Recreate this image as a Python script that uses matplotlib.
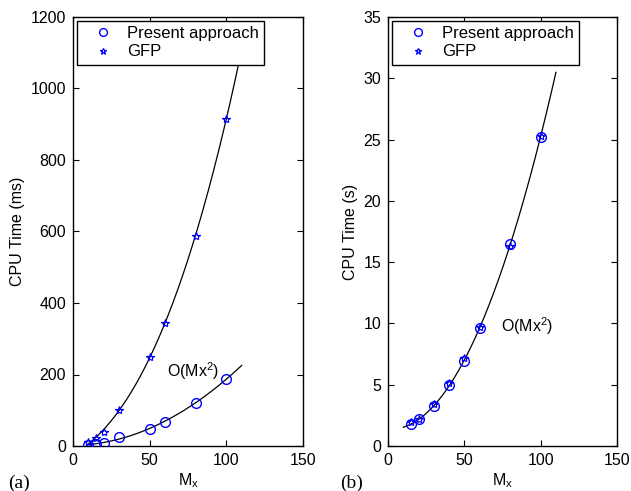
import numpy as np
import matplotlib
matplotlib.use("Agg")
import matplotlib.pyplot as plt

plt.rcParams['font.family'] = ['Liberation Sans', 'DejaVu Sans']
plt.rcParams['mathtext.fontset'] = 'custom'
plt.rcParams['mathtext.rm'] = 'Liberation Sans'
plt.rcParams['mathtext.it'] = 'Liberation Sans'

# (a) CPU time in ms
mx_a = [10, 15, 20, 30, 50, 60, 80, 100]
present_a = [3, 5, 9, 25, 48, 68, 120, 188]
gfp_a = [10, 23, 40, 101, 250, 344, 588, 916]

# (b) CPU time in s
mx_b = [15, 20, 30, 40, 50, 60, 80, 100]
present_b = [1.77, 2.17, 3.3, 4.95, 6.96, 9.6, 16.45, 25.25]
gfp_b = [1.95, 2.22, 3.45, 5.1, 7.2, 9.7, 16.3, 25.3]

blue = (0, 0, 1)
fs = 11

fig = plt.figure(figsize=(6.31, 4.91), dpi=100)
W, H = 631, 491
axA = fig.add_axes([73 / W, 1 - 446 / H, 230 / W, 429 / H])
axB = fig.add_axes([388 / W, 1 - 446 / H, 229 / W, 429 / H])


def style(ax, ylim, yticks, ylabel):
    ax.set_xlim(0, 150)
    ax.set_ylim(*ylim)
    ax.set_xticks([0, 50, 100, 150])
    ax.set_yticks(yticks)
    ax.tick_params(direction='in', top=True, right=True, labelsize=fs + 0.5, length=4, width=0.8, pad=5)
    for s in ax.spines.values():
        s.set_linewidth(1.0)
    ax.set_xlabel(r'M$_\mathregular{x}$', fontsize=fs + 0.5, labelpad=2.5)
    ax.set_ylabel(ylabel, fontsize=fs + 0.5, labelpad=4)


def fit_line(ax, x, y, deg, x0, x1):
    c = np.polyfit(x, y, deg)
    xx = np.linspace(x0, x1, 200)
    ax.plot(xx, np.polyval(c, xx), color='black', lw=0.9, zorder=1)


# Panel (a)
fit_line(axA, mx_a, gfp_a, 3, 9, 110)
fit_line(axA, mx_a, present_a, 2, 9, 110)
axA.plot(mx_a, present_a, 'o', ms=7, mfc='none', mec=blue, mew=1.0, label='Present approach', zorder=3)
axA.plot(mx_a, gfp_a, '*', ms=6, mfc='none', mec=blue, mew=0.9, label='GFP', zorder=3)
style(axA, (0, 1200), [0, 200, 400, 600, 800, 1000, 1200], 'CPU Time (ms)')
axA.text(61, 209, r'O(Mx$^\mathregular{2}$)', fontsize=fs + 0.5, va='center', ha='left')

# Panel (b)
fit_line(axB, mx_b, present_b, 3, 10, 110)
axB.plot(mx_b, present_b, 'o', ms=7, mfc='none', mec=blue, mew=1.0, label='Present approach', zorder=3)
axB.plot(mx_b, gfp_b, '*', ms=6, mfc='none', mec=blue, mew=0.9, label='GFP', zorder=3)
style(axB, (0, 35), [0, 5, 10, 15, 20, 25, 30, 35], 'CPU Time (s)')
axB.text(74, 9.8, r'O(Mx$^\mathregular{2}$)', fontsize=fs + 0.5, va='center', ha='left')

for ax in (axA, axB):
    leg = ax.legend(loc='upper left', fontsize=12, frameon=True, fancybox=False,
                    edgecolor='black', framealpha=1, borderaxespad=0.25,
                    handlelength=2.5, handletextpad=0.2, borderpad=0.3, labelspacing=0.2,
                    markerscale=0.8)
    leg.get_frame().set_linewidth(1.0)

fig.text(8 / W, 1 - 483 / H, '(a)', fontsize=14, family=['Liberation Serif'], va='center', ha='left')
fig.text(340 / W, 1 - 483 / H, '(b)', fontsize=14, family=['Liberation Serif'], va='center', ha='left')

fig.savefig('out.png', dpi=100)
